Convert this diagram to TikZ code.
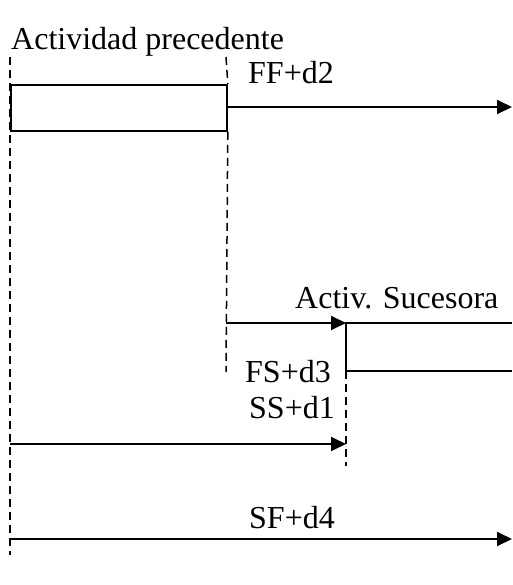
\documentclass[tikz,border=0pt]{standalone}
\usepackage{fontspec}
\setmainfont{Liberation Serif}
\usetikzlibrary{arrows.meta}
\begin{document}
\begin{tikzpicture}[x=1pt,y=-1pt,
  solidline/.style={line width=1.8pt},
  guide/.style={line width=1.5pt,dash pattern=on 8pt off 5pt},
  arr/.style={solidline,-{Triangle[length=15pt,width=14pt]}},
  lbl/.style={inner sep=0pt,anchor=base west,font=\fontsize{32}{38}\selectfont}]
\useasboundingbox (0,0) rectangle (512,585);
% labels
\node[lbl] (tpred) at (11,50) {Actividad precedente};
\node[lbl] (tff) at (248,84) {FF+d2};
\node[lbl] (tsuc) at (295,308) {Activ. Sucesora};
\node[lbl] (tfs) at (245,382) {FS+d3};
\node[lbl] (tss) at (249,418) {SS+d1};
\node[lbl] (tsf) at (249,528) {SF+d4};
% preceding activity bar
\node[solidline,draw,minimum width=216pt,minimum height=46pt,inner sep=0pt,anchor=north west] (pred) at (10,84) {};
% guide coordinates
\coordinate (lTop) at (10,57);
\coordinate (lBot) at (10,555);
\coordinate (rTop) at (226,57);
\coordinate (rBot) at (226,372);
\coordinate (sTop) at (346,371);
\coordinate (sBot) at (346,466);
% successor bar
\coordinate (sNW) at (346,323);
\coordinate (sSW) at (346,371);
\coordinate (sNE) at (512,323);
\coordinate (sSE) at (512,371);
% arrow ends
\coordinate (ffS) at (226,107);
\coordinate (ffE) at (512,107);
\coordinate (fsS) at (226,323);
\coordinate (ssS) at (10,444);
\coordinate (ssE) at (346,444);
\coordinate (sfS) at (10,539);
\coordinate (sfE) at (512,539);
% dashed guides
\draw[guide] (lTop) -- (lBot);
\draw[guide] (rTop) -- (pred.north east);
\draw[guide] (pred.south east) -- (rBot);
\draw[guide] (sTop) -- (sBot);
% successor bar
\draw[solidline] (sNE) -- (sNW) -- (sSW) -- (sSE);
% arrows
\draw[arr] (ffS) -- (ffE);
\draw[arr] (fsS) -- (sNW);
\draw[arr] (ssS) -- (ssE);
\draw[arr] (sfS) -- (sfE);
\end{tikzpicture}
\end{document}
